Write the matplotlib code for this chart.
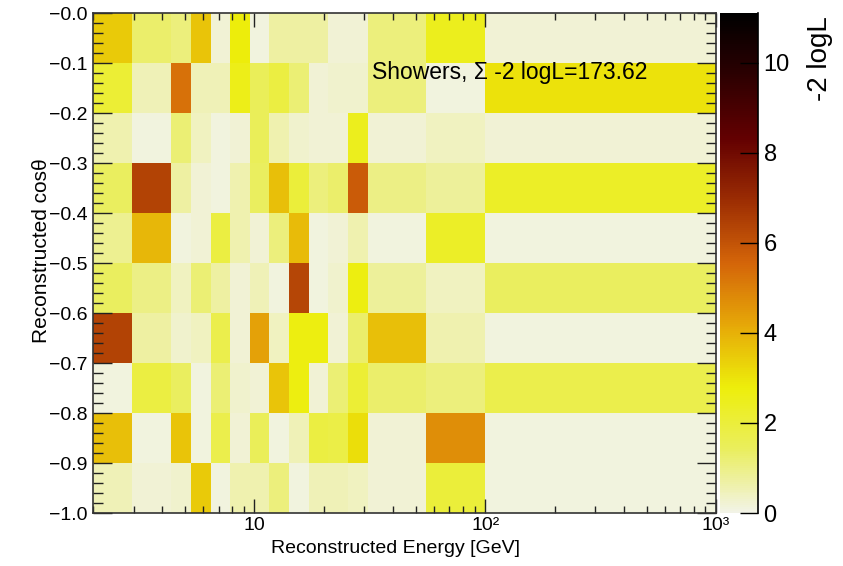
import matplotlib as mpl
mpl.use('Agg')
import matplotlib.pyplot as plt
from matplotlib.colors import LinearSegmentedColormap
from matplotlib.ticker import FixedLocator, FixedFormatter, MultipleLocator, LogLocator, NullFormatter

mpl.rc('font', family='Liberation Sans')

# bin edges of the likelihood map
energy_edges = [2.0, 2.96, 4.37, 5.32, 6.47, 7.87, 9.57, 11.63, 14.14,
                17.2, 20.91, 25.43, 30.93, 55.6, 100.0, 1000.0]
cos_edges = [-1.0, -0.9, -0.8, -0.7, -0.6, -0.5, -0.4, -0.3, -0.2, -0.1, 0.0]

# -2 logL per bin, rows go from cos = 0 downwards
row_00 = [3.5, 1.3, 1.1, 3.6, 0.2, 2.8, 0.1, 0.7, 0.7, 0.7, 0.2, 0.2, 1.1, 2.5, 0.2]
row_01 = [2.1, 0.5, 5.3, 0.5, 0.5, 2.6, 1.5, 1.9, 1.2, 0.2, 0.3, 0.3, 1.1, 0.1, 3.0]
row_02 = [0.6, 0.1, 1.2, 0.4, 0.1, 0.2, 1.5, 0.6, 0.3, 0.2, 0.2, 2.5, 0.2, 0.4, 0.2]
row_03 = [1.4, 6.4, 0.7, 0.2, 0.1, 0.6, 1.4, 3.7, 2.0, 1.1, 1.3, 5.8, 1.0, 0.8, 2.3]
row_04 = [0.9, 3.9, 0.1, 0.2, 1.9, 0.6, 0.2, 1.1, 3.8, 0.1, 0.2, 0.6, 0.1, 2.3, 0.1]
row_05 = [1.4, 1.0, 0.4, 1.2, 0.7, 0.2, 0.5, 0.1, 6.3, 0.1, 0.3, 2.7, 0.8, 0.4, 1.4]
row_06 = [6.4, 0.7, 0.3, 0.4, 1.7, 0.2, 4.3, 0.4, 2.7, 2.7, 0.2, 1.3, 3.7, 0.6, 0.1]
row_07 = [0.1, 1.9, 1.4, 0.1, 1.2, 0.3, 0.2, 3.6, 2.7, 0.2, 1.2, 2.1, 1.3, 1.1, 1.7]
row_08 = [3.7, 0.1, 3.6, 0.1, 1.7, 0.2, 1.5, 0.1, 0.5, 1.9, 1.8, 3.1, 0.2, 4.7, 0.1]
row_09 = [0.5, 0.2, 0.3, 3.5, 0.1, 0.6, 0.6, 1.1, 0.1, 0.5, 0.5, 0.4, 0.2, 2.0, 0.1]
rows = [row_00, row_01, row_02, row_03, row_04, row_05, row_06, row_07, row_08, row_09]

cos_ticks = [0.0, -0.1, -0.2, -0.3, -0.4, -0.5, -0.6, -0.7, -0.8, -0.9, -1.0]
cos_labels = ['\u22120.0', '\u22120.1', '\u22120.2', '\u22120.3', '\u22120.4', '\u22120.5',
              '\u22120.6', '\u22120.7', '\u22120.8', '\u22120.9', '\u22121.0']
energy_ticks = [10, 100, 1000]
energy_labels = ['10', '10\u00b2', '10\u00b3']
z_ticks = [0, 2, 4, 6, 8, 10]
z_max = 11.1

# ROOT's dark body radiator palette, inverted
stops = [0.0, 0.125, 0.25, 0.375, 0.5, 0.625, 0.75, 0.875, 1.0]
red = [242, 234, 237, 230, 212, 156, 99, 45, 0]
green = [243, 238, 238, 168, 101, 45, 0, 0, 0]
blue = [230, 95, 11, 8, 9, 3, 1, 1, 0]
palette = LinearSegmentedColormap.from_list(
    'darkbody_inv', [(s, (r / 255, g / 255, b / 255)) for s, r, g, b in zip(stops, red, green, blue)])

fig = plt.figure(figsize=(8.43, 5.66), dpi=100)
ax = fig.add_axes([93 / 843, 53 / 566, 623 / 843, 500 / 566])
cax = fig.add_axes([720 / 843, 53 / 566, 38 / 843, 500 / 566])

mesh = ax.pcolormesh(energy_edges, cos_edges, rows[::-1], cmap=palette,
                     vmin=0, vmax=z_max, antialiased=False, linewidth=0)

ax.set_xscale('log')
ax.set_xlim(energy_edges[0], energy_edges[-1])
ax.set_ylim(-1.0, 0.0)

ax.xaxis.set_major_locator(FixedLocator(energy_ticks))
ax.xaxis.set_major_formatter(FixedFormatter(energy_labels))
ax.xaxis.set_minor_locator(LogLocator(base=10, subs=range(2, 10)))
ax.xaxis.set_minor_formatter(NullFormatter())
ax.yaxis.set_major_locator(FixedLocator(cos_ticks))
ax.yaxis.set_major_formatter(FixedFormatter(cos_labels))
ax.yaxis.set_minor_locator(MultipleLocator(0.02))

ax.tick_params(axis='both', which='both', direction='in', top=True, right=True,
               width=1, color='#222222', labelsize=14)
ax.tick_params(axis='x', which='major', length=10, pad=3)
ax.tick_params(axis='x', which='minor', length=5)
ax.tick_params(axis='y', which='major', length=14, pad=4)
ax.tick_params(axis='y', which='minor', length=7)
for spine in ax.spines.values():
    spine.set_linewidth(1.2)
    spine.set_color('#333333')

ax.set_xlabel('Reconstructed Energy [GeV]', fontsize=14)
ax.xaxis.set_label_coords(0.485, -0.054)
ax.set_ylabel('Reconstructed cos\u03b8', fontsize=15)
ax.yaxis.set_label_coords(-0.068, 0.524)

ax.text(0.448, 0.882, 'Showers, \u03a3 -2 logL=173.62', transform=ax.transAxes,
        fontsize=16.5, va='center', ha='left')

cbar = fig.colorbar(mesh, cax=cax, ticks=z_ticks)
cbar.outline.set_visible(False)
cax.spines['right'].set_visible(True)
cax.spines['right'].set_linewidth(1.2)
cax.tick_params(direction='in', length=13, width=1, labelsize=17, pad=4)
fig.text(820 / 843, 1 - 16 / 566, '-2 logL', rotation=90, fontsize=20,
         ha='center', va='top')

fig.savefig('out.png', dpi=100)
